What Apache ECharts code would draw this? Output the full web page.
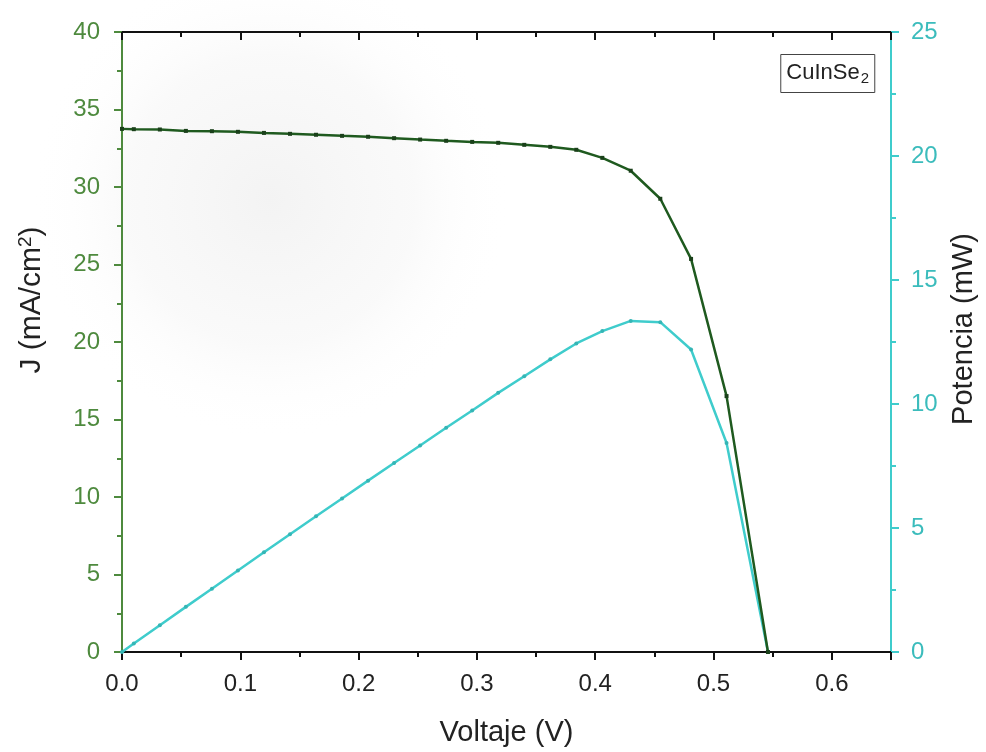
<!DOCTYPE html>
<html>
<head>
<meta charset="utf-8">
<script src="https://cdn.jsdelivr.net/npm/echarts@6/dist/echarts.min.js"></script>
<style>
  html, body { margin: 0; padding: 0; background: #fff; }
  #chart { width: 986px; height: 752px; }
</style>
</head>
<body>
<div id="chart"></div>
<script>
// values
var voltage = [0, 0.010, 0.032, 0.054, 0.076, 0.098, 0.120, 0.142, 0.164, 0.186, 0.208, 0.230,
    0.252, 0.274, 0.296, 0.318, 0.340, 0.362, 0.384, 0.406, 0.430, 0.455, 0.481, 0.511, 0.546];
var currentDensity = [33.75, 33.73, 33.71, 33.62, 33.60, 33.56, 33.49, 33.43, 33.37, 33.30, 33.24, 33.15,
    33.06, 32.98, 32.91, 32.85, 32.72, 32.59, 32.40, 31.88, 31.05, 29.24, 25.36, 16.51, 0];
var power = [0, 0.34, 1.08, 1.82, 2.55, 3.29, 4.02, 4.75, 5.47, 6.19, 6.91, 7.62,
    8.33, 9.04, 9.74, 10.45, 11.12, 11.80, 12.44, 12.94, 13.35, 13.30, 12.20, 8.43, 0];
var xTicks = [0, 0.65, 0.1];
var jTicks = [0, 40, 5];
var pTicks = [0, 25, 5];

var green = '#4e8a3e';
var darkGreen = '#1f5a1f';
var cyan = '#3fcccc';
var font = 'Liberation Sans, Arial, sans-serif';

function pairs(xs, ys) {
    var out = [];
    for (var i = 0; i < xs.length; i++) out.push([xs[i], ys[i]]);
    return out;
}

var chart = echarts.init(document.getElementById('chart'));

var option = {
    backgroundColor: '#fff',
    animation: false,
    textStyle: { fontFamily: font },
    // faint grey shading seen behind the upper-left of the plot
    graphic: [{
        type: 'ellipse',
        z: -10,
        silent: true,
        shape: { cx: 270, cy: 200, rx: 290, ry: 240 },
        style: {
            fill: {
                type: 'radial', x: 0.5, y: 0.5, r: 0.5,
                colorStops: [
                    { offset: 0, color: 'rgba(238,238,238,0.7)' },
                    { offset: 0.6, color: 'rgba(243,243,243,0.45)' },
                    { offset: 1, color: 'rgba(255,255,255,0)' }
                ]
            }
        }
    }],
    title: {
        text: '{a|CuInSe}{b|2}',
        right: 111,
        top: 52,
        padding: [8, 6, 7, 6],
        borderColor: '#444',
        borderWidth: 1,
        backgroundColor: '#fff',
        textStyle: {
            fontWeight: 'normal',
            rich: {
                a: { fontSize: 22, color: '#222', fontWeight: 'normal', fontFamily: font, lineHeight: 26, verticalAlign: 'middle' },
                b: { fontSize: 15, color: '#222', fontWeight: 'normal', fontFamily: font, lineHeight: 26, verticalAlign: 'bottom', padding: [0, 0, 0, 1] }
            }
        }
    },
    grid: { left: 122, right: 93, top: 32, bottom: 99 },
    xAxis: [{
        type: 'value',
        min: xTicks[0], max: xTicks[1], interval: xTicks[2],
        name: 'Voltaje (V)',
        nameLocation: 'middle',
        nameGap: 66,
        nameTextStyle: { fontSize: 29, color: '#222', fontFamily: font },
        axisLine: { onZero: false, lineStyle: { color: '#111', width: 2 } },
        axisTick: { length: 8, lineStyle: { color: '#111', width: 2 } },
        minorTick: { show: true, splitNumber: 2, length: 5, lineStyle: { color: '#111', width: 2 } },
        axisLabel: {
            fontSize: 24, color: '#222', margin: 20,
            formatter: function (v) { return v > 0.6001 ? '' : v.toFixed(1); }
        },
        splitLine: { show: false }
    }, {
        type: 'value',
        position: 'top',
        min: xTicks[0], max: xTicks[1], interval: xTicks[2],
        axisLine: { onZero: false, lineStyle: { color: '#111', width: 2 } },
        axisTick: { inside: true, length: 8, lineStyle: { color: '#111', width: 2 } },
        minorTick: { show: true, splitNumber: 2, length: 5, lineStyle: { color: '#111', width: 2 } },
        axisLabel: { show: false },
        splitLine: { show: false }
    }],
    yAxis: [{
        type: 'value',
        position: 'left',
        min: jTicks[0], max: jTicks[1], interval: jTicks[2],
        name: 'J (mA/cm{sup|2})',
        nameLocation: 'middle',
        nameGap: 75,
        nameTextStyle: {
            fontSize: 30, color: '#222', fontFamily: font,
            padding: [0, 0, 0, 84],
            rich: { sup: { fontSize: 19, color: '#222', fontFamily: font, verticalAlign: 'top', lineHeight: 31 } }
        },
        axisLine: { show: true, onZero: false, lineStyle: { color: green, width: 2 } },
        axisTick: { length: 8, lineStyle: { color: green, width: 2 } },
        minorTick: { show: true, splitNumber: 2, length: 5, lineStyle: { color: green, width: 2 } },
        axisLabel: { fontSize: 24, color: green, margin: 22 },
        splitLine: { show: false }
    }, {
        type: 'value',
        position: 'right',
        min: pTicks[0], max: pTicks[1], interval: pTicks[2],
        name: 'Potencia (mW)',
        nameLocation: 'middle',
        nameGap: 58,
        nameRotate: 90,
        nameTextStyle: { fontSize: 29, color: '#222', fontFamily: font, padding: [0, 0, 0, 26] },
        axisLine: { show: true, onZero: false, lineStyle: { color: cyan, width: 2 } },
        axisTick: { length: 8, lineStyle: { color: cyan, width: 2 } },
        minorTick: { show: true, splitNumber: 2, length: 5, lineStyle: { color: cyan, width: 2 } },
        axisLabel: { fontSize: 24, color: '#3bbcbc', margin: 20 },
        splitLine: { show: false }
    }],
    series: [{
        name: 'J',
        type: 'line',
        xAxisIndex: 0,
        yAxisIndex: 0,
        data: pairs(voltage, currentDensity),
        symbol: 'rect',
        symbolSize: 4,
        showAllSymbol: true,
        lineStyle: { color: darkGreen, width: 2.5 },
        itemStyle: { color: '#1a401a' },
        z: 3
    }, {
        name: 'Potencia',
        type: 'line',
        xAxisIndex: 0,
        yAxisIndex: 1,
        data: pairs(voltage, power),
        symbol: 'circle',
        symbolSize: 4,
        showAllSymbol: true,
        lineStyle: { color: cyan, width: 2.5 },
        itemStyle: { color: '#35b5b5' },
        z: 2
    }]
};

chart.setOption(option);
</script>
</body>
</html>
